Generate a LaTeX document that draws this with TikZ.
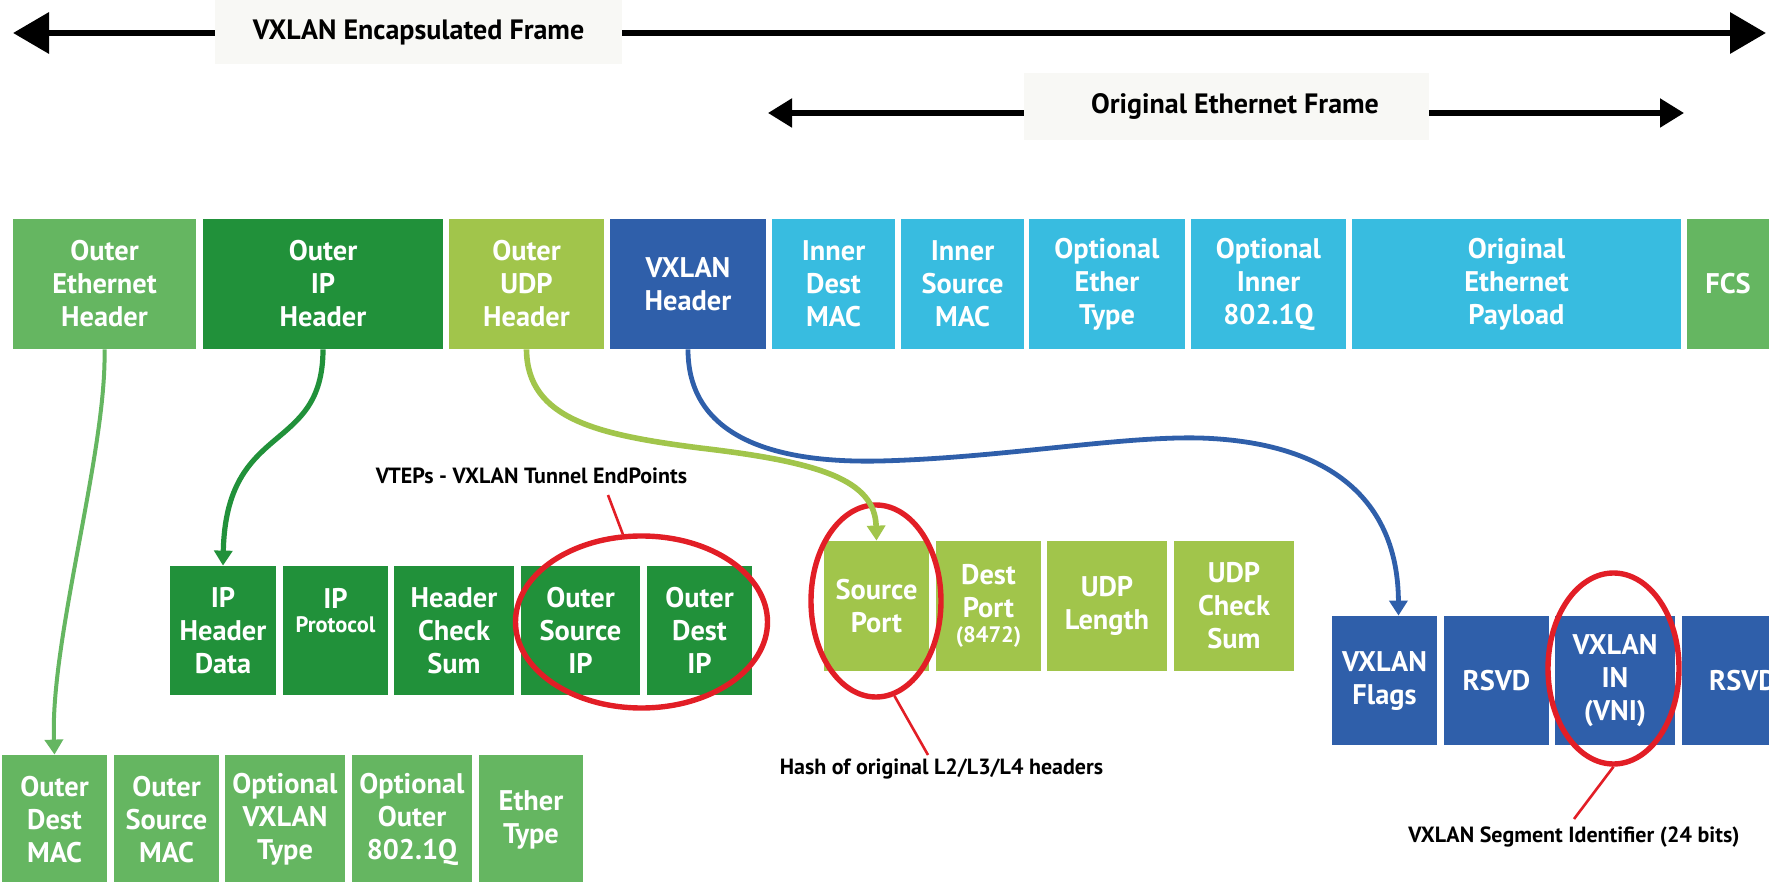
\documentclass[tikz,border=0pt]{standalone}
\usepackage{fontspec}
\setmainfont{PT Sans}
\usetikzlibrary{arrows.meta,shapes.geometric,calc}

\definecolor{mgreen}{HTML}{65B661}
\definecolor{dgreen}{HTML}{21913A}
\definecolor{lgreen}{HTML}{A1C54B}
\definecolor{vblue}{HTML}{2F5FAA}
\definecolor{cyanc}{HTML}{38BCE0}
\definecolor{ringred}{HTML}{E21E26}
\definecolor{labelbg}{HTML}{F8F8F5}

\newcommand\cellfont{\fontsize{14.2}{16.5}\selectfont\bfseries}
\newcommand\smallcell{\fontsize{11.2}{12}\selectfont\bfseries}
\newcommand\notefont{\fontsize{11}{13}\selectfont\bfseries}

% field box given by its corner coordinates (in px units)
\newcommand\cell[6]{%
  \pgfmathsetmacro\cellwd{(#4-#2)*0.5}%
  \pgfmathsetmacro\cellht{(#5-#3)*0.5}%
  \node[#6, minimum width=\cellwd pt, minimum height=\cellht pt] (#1) at ({(#2+#4)/2},{(#3+#5)/2})}

\begin{document}
\begin{tikzpicture}[x=0.5pt,y=-0.5pt,
  cell/.style={rectangle, inner sep=0pt, text=white, font=\cellfont, align=center},
  framelabel/.style={rectangle, fill=labelbg, inner sep=0pt, font=\fontsize{14}{16}\selectfont\bfseries},
  bigline/.style={line width=3.3pt, -{Triangle[width=20pt,length=18pt]}},
  midline/.style={line width=2.6pt, -{Triangle[width=14pt,length=12pt]}},
  conn/.style={-{Triangle[width=9pt,length=7.5pt]}},
  ring/.style={ellipse, draw=ringred, line width=2.7pt, inner sep=0pt},
  leader/.style={draw=ringred, line width=1.3pt},
  note/.style={font=\notefont, text=black, inner sep=0pt}]
\useasboundingbox (0,0) rectangle (1769,882);

% frame extent arrows
\node[framelabel, minimum width=203.5pt, minimum height=32pt] (encl) at (418.5,32) {VXLAN Encapsulated Frame};
\coordinate (encL) at (13,33);
\coordinate (encR) at (1766,33);
\draw[bigline] (encl.west |- encL) -- (encL);
\draw[bigline] (encl.east |- encR) -- (encR);

\node[framelabel, minimum width=202.5pt, minimum height=33.5pt] (origl) at (1226.5,106.5) {\hspace*{8.5pt}Original Ethernet Frame};
\coordinate (origL) at (768,113);
\coordinate (origR) at (1684,113);
\draw[midline] (origl.west |- origL) -- (origL);
\draw[midline] (origl.east |- origR) -- (origR);

% encapsulated frame
\cell{oeth}{13}{219}{196}{349}{cell,fill=mgreen}{Outer\\Ethernet\\Header};
\cell{oip}{203}{219}{443}{349}{cell,fill=dgreen}{Outer\\IP\\Header};
\cell{oudp}{449}{219}{604}{349}{cell,fill=lgreen}{Outer\\UDP\\Header};
\cell{vxh}{610}{219}{766}{349}{cell,fill=vblue}{VXLAN\\Header};
\cell{idmac}{772}{219}{895}{349}{cell,fill=cyanc}{Inner\\Dest\\MAC};
\cell{ismac}{901}{219}{1024}{349}{cell,fill=cyanc}{Inner\\Source\\MAC};
\cell{oetype}{1029}{219}{1185}{349}{cell,fill=cyanc}{Optional\\Ether\\Type};
\cell{oinq}{1191}{219}{1346}{349}{cell,fill=cyanc}{Optional\\Inner\\802.1Q};
\cell{payload}{1352}{219}{1681}{349}{cell,fill=cyanc}{Original\\Ethernet\\Payload};
\cell{fcs}{1687}{219}{1769}{349}{cell,fill=mgreen}{FCS};

% outer IP header fields
\cell{iphd}{170}{566}{276}{695}{cell,fill=dgreen}{IP\\Header\\Data};
\cell{ipproto}{283}{566}{388}{695}{cell,fill=dgreen}{};
\node[cell, anchor=north, yshift=-11pt] at (ipproto.north) {IP\\[-4.5pt]{\smallcell Protocol}};
\cell{hcs}{394}{566}{514}{695}{cell,fill=dgreen}{Header\\Check\\Sum};
\cell{osip}{521}{566}{640}{695}{cell,fill=dgreen}{Outer\\Source\\IP};
\cell{odip}{647}{566}{752}{695}{cell,fill=dgreen}{Outer\\Dest\\IP};

% outer UDP header fields
\cell{sport}{824}{541}{929}{671}{cell,fill=lgreen}{Source\\Port};
\cell{dport}{936}{541}{1041}{671}{cell,fill=lgreen}{Dest\\Port\\[-4pt]{\smallcell (8472)}};
\cell{udplen}{1047}{541}{1167}{671}{cell,fill=lgreen}{UDP\\Length};
\cell{udpcs}{1174}{541}{1294}{671}{cell,fill=lgreen}{UDP\\Check\\Sum};

% VXLAN header fields
\cell{vflags}{1332}{616}{1437}{745}{cell,fill=vblue}{VXLAN\\Flags};
\cell{rsvda}{1444}{616}{1549}{745}{cell,fill=vblue}{RSVD};
\cell{vni}{1555}{616}{1675}{745}{cell,fill=vblue}{VXLAN\\IN\\(VNI)};
\cell{rsvdb}{1682}{616}{1804}{745}{cell,fill=vblue}{RSVD};

% outer Ethernet header fields
\cell{odmac}{2}{755}{107}{884}{cell,fill=mgreen}{Outer\\Dest\\MAC};
\cell{osmac}{114}{755}{219}{884}{cell,fill=mgreen}{Outer\\Source\\MAC};
\cell{ovxt}{225}{755}{345}{884}{cell,fill=mgreen}{Optional\\VXLAN\\Type};
\cell{oq}{352}{755}{472}{884}{cell,fill=mgreen}{Optional\\Outer\\802.1Q};
\cell{etype}{479}{755}{583}{884}{cell,fill=mgreen}{Ether\\Type};

% highlight rings
\node[ring, minimum width=126pt, minimum height=86pt] (ringa) at (641.5,622) {};
\node[ring, minimum width=65pt, minimum height=96pt] (ringb) at (876,601) {};
\node[ring, minimum width=65.5pt, minimum height=95.5pt] (ringc) at (1613.5,668.5) {};

% expansion connectors
\draw[conn, draw=mgreen, line width=2pt] (oeth.south) .. controls (107,450) and (50,640) .. (odmac.north);
\draw[conn, draw=dgreen, line width=2.6pt] (oip.south) .. controls (323,455) and (226,420) .. (iphd.north);
\draw[conn, draw=vblue, line width=2.4pt] (vxh.south) .. controls (688,445) and (790,463) .. (880,461)
  .. controls (1000,458) and (1120,436) .. (1200,438)
  .. controls (1330,442) and (1398,500) .. ([xshift=7pt]vflags.north);
\draw[conn, draw=lgreen, line width=2.8pt] (oudp.south) .. controls (527,420) and (600,435) .. (700,448)
  .. controls (820,462) and (875,480) .. (sport.north);

% annotations
\node[note] (vtep) at (531.5,476) {VTEPs - VXLAN Tunnel EndPoints};
\coordinate (vtepend) at (608,495);
\draw[leader] (vtepend) -- (ringa.102);

\node[note] (hash) at (941.5,769) {Hash of original L2/L3/L4 headers};
\coordinate (hashend) at (928,755);
\draw[leader] (ringb.-79) -- (hashend);

\node[note] (vnilbl) at (1574,837) {VXLAN Segment Identifier (24 bits)};
\coordinate (vniend) at (1574,819);
\draw[leader] (ringc.south) -- (vniend);
\end{tikzpicture}
\end{document}
